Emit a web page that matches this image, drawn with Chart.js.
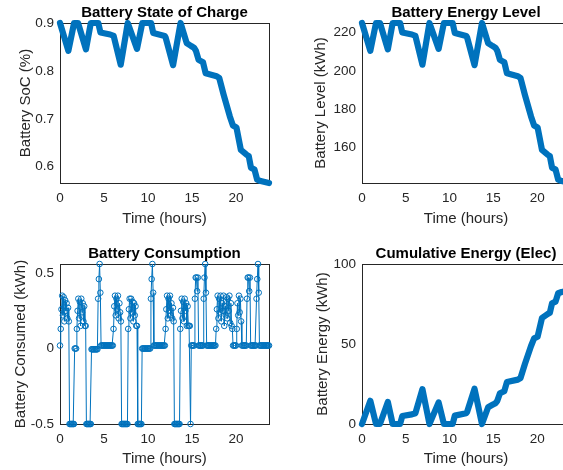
<!DOCTYPE html>
<html>
<head>
<meta charset="utf-8">
<title>Battery</title>
<script src="https://cdn.jsdelivr.net/npm/chart.js@4.4.1/dist/chart.umd.min.js"></script>
<style>
    html, body { margin: 0; padding: 0; background: #fff; overflow: hidden; width: 563px; height: 470px; }
    canvas { position: absolute; }
</style>
</head>
<body>
<canvas id="soc-chart" width="290" height="235" style="left:0;top:0"></canvas>
<canvas id="level-chart" width="320" height="235" style="left:290px;top:0"></canvas>
<canvas id="consumed-chart" width="290" height="235" style="left:0;top:235px"></canvas>
<canvas id="cumulative-chart" width="320" height="235" style="left:290px;top:235px"></canvas>
<script>
// Time axis
const hourTicks = [0, 5, 10, 15, 20];
const hourMax = 23.75;

// Vertices of the battery traces (hours)
const traceHours = [0, 0.95, 1.6, 2.05, 2.95, 3.5, 4.35, 4.6, 5.7, 6.1, 6.9, 7.7, 8.75, 9.35, 10.35, 10.6,
    11.9, 12.0, 12.85, 13.7, 14.4, 14.9, 15.25, 15.45, 15.75, 16.25, 16.55, 17.8, 18.1, 18.6, 19.3, 19.65,
    20.05, 20.55, 21.2, 21.45, 21.7, 22.1, 22.4, 22.8, 23.75];

const socValues = [0.900, 0.842, 0.900, 0.900, 0.845, 0.900, 0.900, 0.880, 0.876, 0.873, 0.813, 0.900, 0.846,
    0.900, 0.900, 0.879, 0.873, 0.870, 0.812, 0.900, 0.858, 0.852, 0.848, 0.842, 0.823, 0.818, 0.795, 0.789,
    0.785, 0.750, 0.705, 0.686, 0.682, 0.635, 0.625, 0.622, 0.598, 0.594, 0.573, 0.570, 0.566];

const levelValues = [225, 210.5, 225, 225, 211.25, 225, 225, 220, 219, 218.25, 203.25, 225, 211.5,
    225, 225, 219.75, 218.25, 217.5, 203, 225, 214.5, 213, 212, 210.5, 205.75, 204.5, 198.75, 197.25,
    196.25, 187.5, 176.25, 171.5, 170.5, 158.75, 156.25, 155.5, 149.5, 148.5, 143.25, 142.5, 141.5];

const cumulativeValues = [0, 14.5, 0, 0, 13.75, 0, 0, 5, 6, 6.75, 21.75, 0, 13.5,
    0, 0, 5.25, 6.75, 7.5, 22, 0, 10.5, 12, 13, 14.5, 19.25, 20.5, 26.25, 27.75,
    28.75, 37.5, 48.75, 53.5, 54.5, 66.25, 68.75, 69.5, 75.5, 76.5, 81.75, 82.5, 83.5];

// Battery consumed per 5-minute step, one row per hour
const consumedStepHours = 5 / 60;
const consumedValues = [
    0.02, 0.13, 0.26, 0.35, 0.22, 0.34, 0.18, 0.32, 0.25, 0.30, 0.20, 0.27,
    0.18, -0.5, -0.5, -0.5, -0.5, -0.5, -0.5, -0.5, 0, 0, 0, 0.13,
    0.25, 0.33, 0.20, 0.31, 0.15, 0.33, 0.24, 0.30, 0.18, 0.28, 0.15, 0.15,
    -0.5, -0.5, -0.5, -0.5, -0.5, -0.5, -0.5, -0.005, -0.005, -0.005, -0.005, -0.005,
    -0.005, -0.005, -0.005, -0.005, 0.33, 0.46, 0.56, 0.37, 0.02, 0.02, 0.02, 0.02,
    0.02, 0.02, 0.02, 0.02, 0.02, 0.02, 0.02, 0.02, 0.02, 0.02, 0.02, 0.02,
    0.02, 0.13, 0.28, 0.35, 0.22, 0.33, 0.26, 0.35, 0.20, 0.30, 0.24, 0.18,
    -0.5, -0.5, -0.5, -0.5, -0.5, -0.5, -0.5, -0.5, -0.5, 0.13, 0.26, 0.33,
    0.20, 0.33, 0.24, 0.31, 0.18, 0.30, 0.22, 0.28, 0.15, 0.15, -0.5, -0.5,
    -0.5, -0.5, -0.5, -0.5, 0, 0, 0, 0, 0, 0, 0, 0,
    0, 0, 0, 0, 0.33, 0.46, 0.56, 0.37, 0.02, 0.02, 0.02, 0.02,
    0.02, 0.02, 0.02, 0.02, 0.02, 0.02, 0.02, 0.02, 0.02, 0.02, 0.02, 0.02,
    0.13, 0.26, 0.35, 0.20, 0.33, 0.25, 0.35, 0.22, 0.30, 0.20, 0.27, 0.18,
    -0.5, -0.5, -0.5, -0.5, -0.5, -0.5, -0.5, -0.5, 0.13, 0.25, 0.33, 0.20,
    0.31, 0.18, 0.33, 0.25, 0.30, 0.15, 0.28, 0.15, 0.15, 0.15, -0.5, 0.02,
    0.02, 0.02, 0.02, 0.02, 0.33, 0.47, 0.47, 0.38, 0.47, 0.02, 0.02, 0.02,
    0.02, 0.02, 0.02, 0.02, 0.33, 0.47, 0.56, 0.37, 0.02, 0.02, 0.02, 0.02,
    0.02, 0.02, 0.02, 0.02, 0.02, 0.02, 0.02, 0.02, 0.02, 0.13, 0.26, 0.35,
    0.20, 0.33, 0.24, 0.35, 0.18, 0.30, 0.25, 0.35, 0.15, 0.28, 0.22, 0.34,
    0.20, 0.33, 0.25, 0.35, 0.17, 0.30, 0.15, 0.13, 0.02, 0.02, 0.02, 0.02,
    0.02, 0.13, 0.30, 0.22, 0.35, 0.24, 0.33, 0.18, 0.02, 0.02, 0.02, 0.02,
    0.02, 0.02, 0.02, 0.33, 0.47, 0.47, 0.38, 0.47, 0.02, 0.02, 0.02, 0.02,
    0.02, 0.02, 0.02, 0.02, 0.33, 0.46, 0.56, 0.37, 0.02, 0.02, 0.02, 0.02,
    0.02, 0.02, 0.02, 0.02, 0.02, 0.02, 0.02, 0.02, 0.02, 0.02
];

// Y tick labels
const socTicks = [0.6, 0.7, 0.8, 0.9];
const levelTicks = [160, 180, 200, 220];
const consumedTicks = [-0.5, 0, 0.5];
const cumulativeTicks = [0, 50, 100];

const FONT = "'Liberation Sans', Arial, Helvetica, sans-serif";
const BLUE = '#0072BD';
const TEXT = '#262626';

/**
 * Draws the axes box and the bold title over the plot area
 */
const matlabAxes = {
    id: 'matlabAxes',
    beforeDatasetsDraw(chart) {
        const {ctx, chartArea: a} = chart;
        ctx.save();
        ctx.strokeStyle = TEXT;
        ctx.lineWidth = 1;
        ctx.strokeRect(Math.round(a.left) + 0.5, Math.round(a.top) + 0.5,
            Math.round(a.right - a.left), Math.round(a.bottom - a.top));
        ctx.restore();
    },
    afterDraw(chart, args, opts) {
        const {ctx, chartArea: a} = chart;
        ctx.save();
        ctx.font = 'bold 15px ' + FONT;
        ctx.fillStyle = '#000';
        ctx.textAlign = 'center';
        ctx.textBaseline = 'alphabetic';
        ctx.fillText(opts.text, (a.left + a.right) / 2, a.top - 6);
        ctx.restore();
    }
};

function toPoints(xs, ys) {
    return ys.map((y, i) => ({x: xs[i], y: y}));
}

/**
 * Build one subplot
 */
function makeAxes(id, cfg) {
    const ctx = document.getElementById(id).getContext('2d');
    return new Chart(ctx, {
        type: 'line',
        data: {datasets: [cfg.dataset]},
        plugins: [matlabAxes],
        options: {
            responsive: false,
            animation: false,
            events: [],
            layout: {padding: {left: 0, top: cfg.padTop, right: cfg.padRight, bottom: 0}},
            plugins: {
                legend: {display: false},
                tooltip: {enabled: false},
                matlabAxes: {text: cfg.title}
            },
            scales: {
                x: {
                    type: 'linear',
                    min: 0,
                    max: hourMax,
                    grid: {display: false, drawTicks: false},
                    border: {display: false},
                    afterBuildTicks: s => { s.ticks = hourTicks.map(v => ({value: v})); },
                    afterFit: s => { s.height = cfg.xHeight; },
                    ticks: {color: TEXT, font: {family: FONT, size: 13.5}, padding: 7, maxRotation: 0},
                    title: {
                        display: true, text: 'Time (hours)', color: TEXT,
                        font: {family: FONT, size: 15}, padding: {top: 0, bottom: cfg.xTitlePad}
                    }
                },
                y: {
                    type: 'linear',
                    min: cfg.yMin,
                    max: cfg.yMax,
                    grid: {display: false, drawTicks: false},
                    border: {display: false},
                    afterBuildTicks: s => { s.ticks = cfg.yTicks.map(v => ({value: v})); },
                    afterFit: s => { s.width = cfg.yWidth; },
                    ticks: {color: TEXT, font: {family: FONT, size: 13.5}, padding: 6,
                        callback: v => String(v)},
                    title: {
                        display: true, text: cfg.yTitle, color: TEXT,
                        font: {family: FONT, size: 15}, padding: {top: cfg.yTitlePad, bottom: 0}
                    }
                }
            }
        }
    });
}

function thickLine(values) {
    return {
        data: toPoints(traceHours, values),
        borderColor: BLUE,
        borderWidth: 6.2,
        borderJoinStyle: 'round',
        borderCapStyle: 'round',
        pointRadius: 0,
        tension: 0,
        clip: false
    };
}

document.addEventListener('DOMContentLoaded', function() {
    makeAxes('soc-chart', {
        title: 'Battery State of Charge',
        yTitle: 'Battery SoC (%)',
        dataset: thickLine(socValues),
        yMin: 0.566, yMax: 0.9, yTicks: socTicks,
        padTop: 23, padRight: 21, xHeight: 52, xTitlePad: 7.5, yWidth: 60, yTitlePad: 17
    });

    makeAxes('level-chart', {
        title: 'Battery Energy Level',
        yTitle: 'Battery Level (kWh)',
        dataset: thickLine(levelValues),
        yMin: 141.5, yMax: 225, yTicks: levelTicks,
        padTop: 23, padRight: 40, xHeight: 52, xTitlePad: 7.5, yWidth: 72, yTitlePad: 22
    });

    makeAxes('consumed-chart', {
        title: 'Battery Consumption',
        yTitle: 'Battery Consumed (kWh)',
        dataset: {
            data: consumedValues.map((v, i) => ({x: i * consumedStepHours, y: v})),
            borderColor: BLUE,
            borderWidth: 1,
            pointRadius: 2.8,
            pointBorderWidth: 1,
            pointBorderColor: BLUE,
            pointBackgroundColor: 'rgba(0,0,0,0)',
            tension: 0,
            clip: false
        },
        yMin: -0.5, yMax: 0.56, yTicks: consumedTicks,
        padTop: 29, padRight: 21, xHeight: 46, xTitlePad: 2, yWidth: 60, yTitlePad: 12
    });

    makeAxes('cumulative-chart', {
        title: 'Cumulative Energy (Elec)',
        yTitle: 'Battery Energy (kWh)',
        dataset: thickLine(cumulativeValues),
        yMin: 0, yMax: 100, yTicks: cumulativeTicks,
        padTop: 29, padRight: 40, xHeight: 46, xTitlePad: 2, yWidth: 72, yTitlePad: 23.5
    });
});
</script>
</body>
</html>
